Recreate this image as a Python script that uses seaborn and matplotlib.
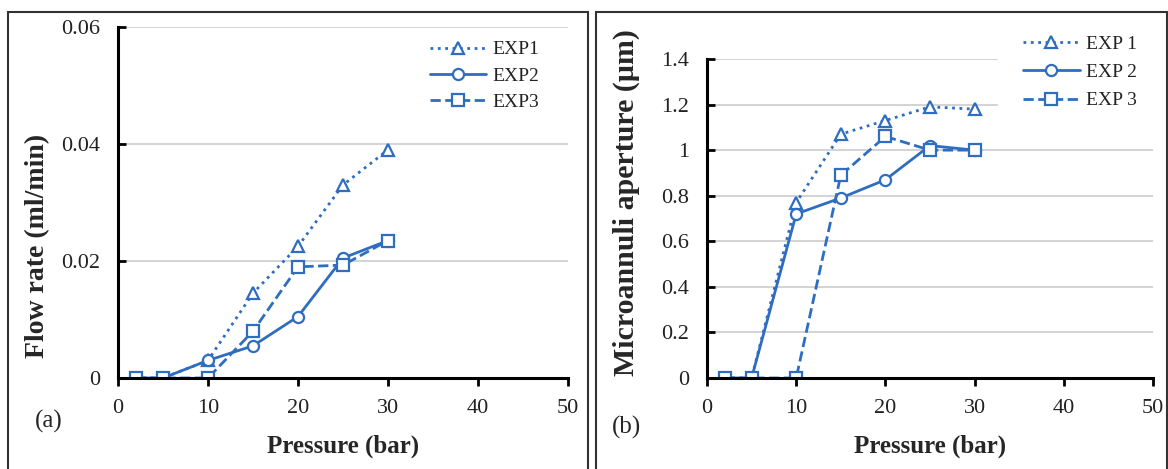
import matplotlib
matplotlib.use("Agg")
import matplotlib.pyplot as plt
import seaborn as sns
import numpy as np
import pandas as pd
from matplotlib.patches import Rectangle

pressure = [2, 5, 10, 15, 20, 25, 30]
flow_exp1 = [0, 0, 0.003, 0.0145, 0.0225, 0.033, 0.039]
flow_exp2 = [0, 0, 0.003, 0.0055, 0.0105, 0.0205, 0.0235]
flow_exp3 = [0, 0, 0, 0.008, 0.019, 0.0193, 0.0235]
ap_exp1 = [0, 0, 0.77, 1.07, 1.13, 1.19, 1.18]
ap_exp2 = [0, 0, 0.72, 0.79, 0.87, 1.02, 1.0]
ap_exp3 = [0, 0, 0, 0.89, 1.06, 1.0, 1.0]
labels_a = ["EXP1", "EXP2", "EXP3"]
labels_b = ["EXP 1", "EXP 2", "EXP 3"]

sns.set_theme(style="white")
plt.rcParams['font.family'] = ['Liberation Serif', 'DejaVu Serif']

color = "#2E6DC0"
styles = [(":", "^"), ("-", "o"), ("--", "s")]

fig = plt.figure(figsize=(11.68, 4.69), dpi=100)
W, H = 1168, 469
def ax_rect(x0, x1, ytop, ybot):
    return [x0 / W, 1 - ybot / H, (x1 - x0) / W, (ybot - ytop) / H]

axa = fig.add_axes(ax_rect(118, 568, 27, 378))
axb = fig.add_axes(ax_rect(707, 1153, 59, 378))

def draw(ax, series, labels, ymax, ystep, yfmt):
    for ys, lab, (ls, mk) in zip(series, labels, styles):
        df = pd.DataFrame({"Pressure": pressure, "v": ys})
        sns.lineplot(data=df, x="Pressure", y="v", ax=ax, color=color, linestyle=ls,
                     marker=mk, markersize=8, markerfacecolor="white",
                     markeredgecolor=color, markeredgewidth=1.6, linewidth=2.0, label=lab)
    ax.set_xlim(0, 50)
    ax.set_ylim(0, ymax)
    ax.set_xticks(range(0, 51, 10))
    yt = np.arange(0, ymax + 1e-9, ystep)
    ax.set_yticks(yt)
    ax.set_yticklabels([yfmt(v) for v in yt])
    ax.yaxis.grid(True, color="#cccccc", linewidth=1.2)
    ax.xaxis.grid(False)
    for s in ["top", "right"]:
        ax.spines[s].set_visible(False)
    for s in ["left", "bottom"]:
        ax.spines[s].set_color("black")
        ax.spines[s].set_linewidth(2.2)
    ax.tick_params(axis="x", direction="out", length=6, width=2, colors="black",
                   labelsize=16, pad=9, bottom=True)
    ax.tick_params(axis="y", direction="in", length=6, width=2, colors="black",
                   labelsize=16, pad=13, left=True)
    for t in ax.get_xticklabels() + ax.get_yticklabels():
        t.set_color("#222222")
    ax.set_xlabel("Pressure (bar)", fontsize=18, fontweight="bold", labelpad=12)

def fmt_a(v):
    return "0" if abs(v) < 1e-12 else f"{v:.2f}"
def fmt_b(v):
    if abs(v) < 1e-12:
        return "0"
    if abs(v - round(v)) < 1e-9:
        return str(int(round(v)))
    return f"{v:.1f}"

draw(axa, [flow_exp1, flow_exp2, flow_exp3], labels_a, 0.06, 0.02, fmt_a)
draw(axb, [ap_exp1, ap_exp2, ap_exp3], labels_b, 1.4, 0.2, fmt_b)

axa.set_ylabel("Flow rate (ml/min)", fontsize=20, fontweight="bold")
axa.yaxis.set_label_coords((50 - 118) / 450, (378 - 246) / 351)
axb.set_ylabel("Microannuli aperture (µm)", fontsize=21.5, fontweight="bold")
axb.yaxis.set_label_coords((640 - 707) / 446, (378 - 203) / 319)

# legend (a): frameless
h, l = axa.get_legend_handles_labels()
axa.legend_.remove()
leg = fig.legend(h, l, loc="upper left", bbox_to_anchor=(422 / W, 1 - 33 / H), frameon=False,
                 borderaxespad=0, borderpad=0.4,
                 fontsize=14, handlelength=2.9, handletextpad=0.3, labelspacing=0.45)
for t in leg.get_texts():
    t.set_color("#222222")

# legend (b): white box hiding grid behind it
h, l = axb.get_legend_handles_labels()
axb.legend_.remove()
leg = fig.legend(h, l, loc="upper left", bbox_to_anchor=(998 / W, 1 - 10 / H), frameon=True,
                 facecolor="white", edgecolor="white", framealpha=1, fancybox=False,
                 borderaxespad=0, borderpad=1.3,
                 fontsize=14, handlelength=2.9, handletextpad=0.3, labelspacing=0.55)
for t in leg.get_texts():
    t.set_color("#222222")

fig.text(35 / W, 1 - 421 / H, "(a)", fontsize=18, va="center", ha="left")
fig.text(612 / W, 1 - 427 / H, "(b)", fontsize=18, va="center", ha="left")

fig.add_artist(Rectangle((8 / W, -0.02), 580 / W, 1 - 12 / H + 0.02, transform=fig.transFigure,
                         fill=False, edgecolor="#333333", linewidth=1.5, zorder=10))
fig.add_artist(Rectangle((596 / W, -0.02), 572 / W - 0.001, 1 - 12 / H + 0.02, transform=fig.transFigure,
                         fill=False, edgecolor="#333333", linewidth=1.5, zorder=10))

fig.savefig("out.png", dpi=100)
